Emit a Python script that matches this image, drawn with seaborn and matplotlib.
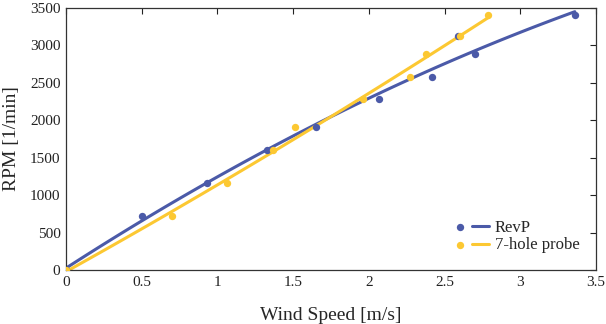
import numpy as np
import pandas as pd
import matplotlib
matplotlib.use("Agg")
import matplotlib.pyplot as plt
import seaborn as sns
from matplotlib.legend_handler import HandlerTuple

rpm = [0, 720, 1160, 1600, 1910, 2280, 2575, 2885, 3130, 3400]
revp_speed = [0, 0.50, 0.93, 1.33, 1.65, 2.07, 2.42, 2.70, 2.59, 3.36]
probe_speed = [0, 0.70, 1.06, 1.37, 1.51, 1.96, 2.27, 2.38, 2.60, 2.79]
series_names = ["RevP", "7-hole probe"]
colors = ["#4b5aa8", "#fcc832"]
xticks = [0, 0.5, 1, 1.5, 2, 2.5, 3, 3.5]
xticklabels = ["0", "0.5", "1", "1.5", "2", "2.5", "3", "3.5"]
yticks = [0, 500, 1000, 1500, 2000, 2500, 3000, 3500]

sns.set_theme(style="white")
plt.rcParams["font.family"] = ["Liberation Serif", "DejaVu Serif"]

fig = plt.figure(figsize=(6.06, 3.24), dpi=100)
ax = fig.add_axes([66/606, 1 - 270/324, 530/606, 262/324])

handles = []
for name, xs, c in zip(series_names, [revp_speed, probe_speed], colors):
    df = pd.DataFrame({"speed": xs, "rpm": rpm})
    coef = np.polyfit(df["speed"], df["rpm"], 2)
    xf = np.linspace(0, max(xs), 100)
    fit = pd.DataFrame({"speed": xf, "rpm": np.polyval(coef, xf)})
    sns.lineplot(data=fit, x="speed", y="rpm", ax=ax, color=c, lw=2.2, zorder=2)
    sc = ax.scatter(df["speed"], df["rpm"], s=28, color=c, zorder=3, linewidths=0)
    ln = plt.Line2D([], [], color=c, lw=2.2)
    handles.append((sc, ln))

ax.set_xlim(0, 3.5)
ax.set_ylim(0, 3500)
ax.set_xticks(xticks)
ax.set_xticklabels(xticklabels)
ax.set_yticks(yticks)
ax.tick_params(direction="in", length=4, width=0.8, top=True, right=True,
               labelsize=11, colors="#222222", pad=4)
for s in ax.spines.values():
    s.set_color("#333333")
    s.set_linewidth(0.9)
ax.set_xlabel("Wind Speed [m/s]", fontsize=14, labelpad=13)
ax.set_ylabel("RPM [1/min]", fontsize=14, labelpad=7)

ax.legend(handles, series_names, handler_map={tuple: HandlerTuple(ndivide=None, pad=0.2)},
          loc="lower right", frameon=False, fontsize=12, handlelength=2.2,
          handletextpad=0.35, borderaxespad=0.6, labelspacing=0.1)

fig.savefig("out.png", dpi=100)
